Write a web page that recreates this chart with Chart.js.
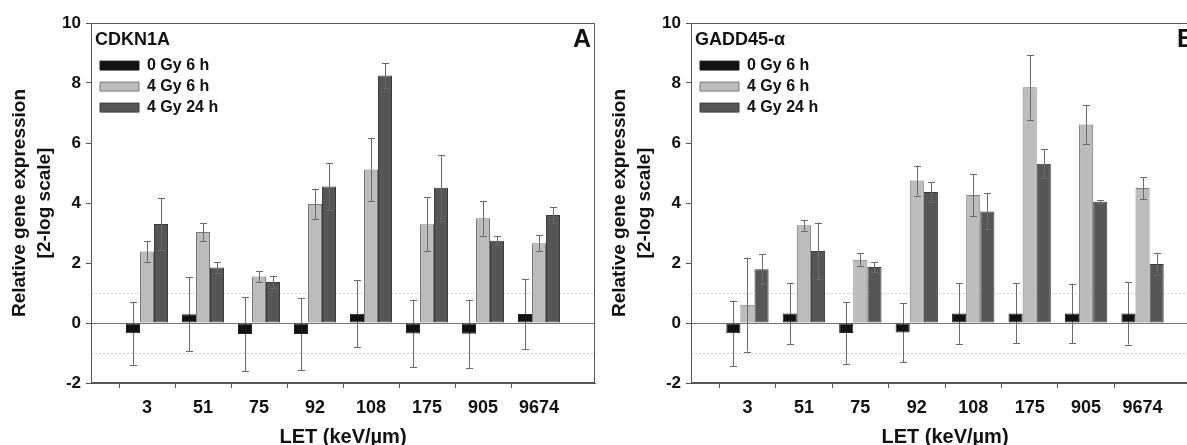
<html>
  <head>
    <title>CDKN1A / GADD45-α expression</title>
    <script src="https://cdn.jsdelivr.net/npm/chart.js"></script>
    <style>
      body { margin: 0; background: #fff; }
      .panel { position: absolute; top: 0; height: 445px; overflow: hidden; }
    </style>
  </head>
  <body>
    <div class="panel" style="left:0;width:596px"><canvas id="chartA" width="596" height="445"></canvas></div>
    <div class="panel" style="left:600px;width:587px"><canvas id="chartB" width="600" height="445"></canvas></div>

    <script>
      const categories = ['3', '51', '75', '92', '108', '175', '905', '9674'];
      const seriesNames = ['0 Gy 6 h', '4 Gy 6 h', '4 Gy 24 h'];
      const yTicks = [-2, 0, 2, 4, 6, 8, 10];

      // panel A - CDKN1A
      const cdkn1a0Gy6h = [-0.34, 0.29, -0.37, -0.37, 0.31, -0.35, -0.36, 0.30];
      const cdkn1a0Gy6hErr = [1.05, 1.23, 1.23, 1.20, 1.12, 1.12, 1.13, 1.17];
      const cdkn1a4Gy6h = [2.38, 3.03, 1.55, 3.97, 5.12, 3.29, 3.49, 2.66];
      const cdkn1a4Gy6hErr = [0.35, 0.30, 0.18, 0.51, 1.06, 0.90, 0.58, 0.26];
      const cdkn1a4Gy24h = [3.30, 1.85, 1.37, 4.55, 8.25, 4.51, 2.74, 3.60];
      const cdkn1a4Gy24hErr = [0.87, 0.17, 0.21, 0.78, 0.42, 1.10, 0.15, 0.27];

      // panel B - GADD45-alpha
      const gadd0Gy6h = [-0.34, 0.32, -0.33, -0.32, 0.32, 0.32, 0.32, 0.32];
      const gadd0Gy6hErr = [1.09, 1.01, 1.03, 0.98, 1.01, 1.00, 0.99, 1.04];
      const gadd4Gy6h = [0.61, 3.26, 2.11, 4.75, 4.27, 7.86, 6.62, 4.50];
      const gadd4Gy6hErr = [1.56, 0.18, 0.22, 0.50, 0.70, 1.08, 0.65, 0.36];
      const gadd4Gy24h = [1.79, 2.40, 1.87, 4.37, 3.72, 5.31, 4.04, 1.97];
      const gadd4Gy24hErr = [0.50, 0.95, 0.16, 0.33, 0.60, 0.49, 0.05, 0.37];

      const fillColors = ['#121212', '#bcbcbc', '#565656'];
      const edgeColors = ['#222', '#7a7a7a', '#3a3a3a'];

      Chart.defaults.font.family = '"Liberation Sans", Arial, sans-serif';
      Chart.defaults.color = '#111';

      // empty slot at each end so the 8 groups sit like the original axis
      const pad = arr => [null, ...arr, null];

      function drawErrors(chart, behind) {
        const {ctx, scales: {y}} = chart;
        ctx.save();
        ctx.lineWidth = 1;
        ctx.strokeStyle = '#6a6a6a';
        chart.data.datasets.forEach((ds, i) => {
          if (!!ds.errorsBehind !== behind) return;
          chart.getDatasetMeta(i).data.forEach((bar, j) => {
            const v = ds.data[j], e = ds.errors[j];
            if (v == null || e == null) return;
            const x = Math.round(bar.x) + 0.5;
            const top = y.getPixelForValue(v + e), bot = y.getPixelForValue(v - e);
            ctx.beginPath();
            ctx.moveTo(x, top); ctx.lineTo(x, bot);
            ctx.moveTo(x - 3.5, Math.round(top) + 0.5); ctx.lineTo(x + 3.5, Math.round(top) + 0.5);
            ctx.moveTo(x - 3.5, Math.round(bot) + 0.5); ctx.lineTo(x + 3.5, Math.round(bot) + 0.5);
            ctx.stroke();
          });
        });
        ctx.restore();
      }

      const plotDecor = {
        id: 'plotDecor',
        afterLayout(chart) {
          // keep the legend in the top-left corner of the plot
          const a = chart.chartArea;
          chart.legend.top = a.top;
          chart.legend.bottom = a.bottom;
          chart.legend.left = a.left + 4;
        },
        beforeDatasetsDraw(chart) {
          const {ctx, chartArea: a, scales: {y}} = chart;
          ctx.save();
          ctx.lineWidth = 1;
          ctx.strokeStyle = '#d0d0d0';
          ctx.setLineDash([2, 2]);
          [1, -1].forEach(v => {
            const py = Math.round(y.getPixelForValue(v)) + 0.5;
            ctx.beginPath(); ctx.moveTo(a.left, py); ctx.lineTo(a.right, py); ctx.stroke();
          });
          ctx.setLineDash([]);
          ctx.strokeStyle = '#777';
          const p0 = Math.round(y.getPixelForValue(0)) + 0.5;
          ctx.beginPath(); ctx.moveTo(a.left, p0); ctx.lineTo(a.right, p0); ctx.stroke();
          ctx.restore();
          drawErrors(chart, true);
        },
        afterDatasetsDraw(chart) {
          drawErrors(chart, false);
        },
        afterDraw(chart, args, opts) {
          const {ctx, chartArea: a} = chart;
          ctx.save();
          ctx.strokeStyle = '#555';
          ctx.lineWidth = 1;
          ctx.strokeRect(a.left + 0.5, a.top + 0.5, a.right - a.left - 1, a.bottom - a.top - 1);
          ctx.font = 'bold 25px "Liberation Sans", Arial, sans-serif';
          ctx.fillStyle = '#111';
          ctx.textAlign = 'right';
          ctx.textBaseline = 'middle';
          ctx.fillText(opts.letter, a.right - 4, a.top + 17);
          ctx.restore();
        }
      };

      function makeChart(id, gene, letter, values, errors) {
        new Chart(document.getElementById(id), {
          type: 'bar',
          data: {
            labels: pad(categories),
            datasets: seriesNames.map((name, i) => ({
              label: name,
              data: pad(values[i]),
              errors: pad(errors[i]),
              errorsBehind: i === 0,
              backgroundColor: fillColors[i],
              borderColor: edgeColors[i],
              borderWidth: 1,
              borderSkipped: false,
              categoryPercentage: 0.75,
              barPercentage: 1.0
            }))
          },
          options: {
            responsive: false,
            animation: false,
            layout: { padding: { top: 23, right: 1, left: 0, bottom: 0 } },
            plugins: {
              tooltip: { enabled: false },
              plotDecor: { letter: letter },
              legend: {
                position: 'chartArea',
                align: 'start',
                title: {
                  display: true, text: gene, position: 'start',
                  font: { size: 18, weight: 'bold' }, color: '#111',
                  padding: { top: 8, bottom: 0 }
                },
                labels: {
                  boxWidth: 39, boxHeight: 9, padding: 5,
                  font: { size: 16, weight: 'bold' }, color: '#111'
                }
              }
            },
            scales: {
              x: {
                type: 'category',
                offset: false,
                grid: {
                  drawOnChartArea: false, tickLength: 5,
                  color: c => (c.tick && c.tick.label !== '') ? '#555' : 'rgba(0,0,0,0)'
                },
                border: { color: '#555' },
                ticks: { font: { size: 18, weight: 'bold' }, color: '#111', padding: 9, maxRotation: 0, autoSkip: false },
                title: {
                  display: true, text: 'LET (keV/µm)',
                  font: { size: 20, weight: 'bold', lineHeight: 1 }, color: '#111',
                  padding: { top: 0, bottom: -2 }
                },
                afterFit: s => { s.height = 62; }
              },
              y: {
                min: -2, max: 10,
                afterBuildTicks: s => { s.ticks = yTicks.map(v => ({ value: v })); },
                grid: { drawOnChartArea: false, tickLength: 5, color: '#555' },
                border: { color: '#555' },
                ticks: { font: { size: 17, weight: 'bold' }, color: '#111', padding: 5 },
                title: {
                  display: true, text: ['Relative gene expression', '[2-log scale]'],
                  font: { size: 19, weight: 'bold', lineHeight: 1.32 }, color: '#111',
                  padding: { top: 7.5, bottom: 0 }
                },
                afterFit: s => { s.width = 91; }
              }
            }
          },
          plugins: [plotDecor]
        });
      }

      makeChart('chartA', 'CDKN1A', 'A',
        [cdkn1a0Gy6h, cdkn1a4Gy6h, cdkn1a4Gy24h],
        [cdkn1a0Gy6hErr, cdkn1a4Gy6hErr, cdkn1a4Gy24hErr]);
      makeChart('chartB', 'GADD45-α', 'B',
        [gadd0Gy6h, gadd4Gy6h, gadd4Gy24h],
        [gadd0Gy6hErr, gadd4Gy6hErr, gadd4Gy24hErr]);
    </script>
  </body>
</html>
